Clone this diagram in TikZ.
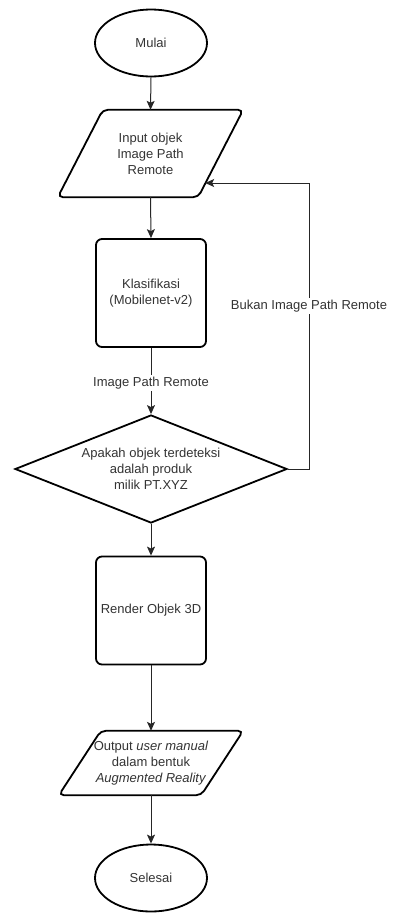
\documentclass[tikz,border=0pt]{standalone}
\usepackage{fontspec}
\setmainfont{Liberation Sans}
\usetikzlibrary{shapes.geometric,arrows.meta,calc}

\tikzset{
  shapeline/.style={draw=black, line width=1.8pt},
  txt/.style={text=black!80, font=\fontsize{13}{16}\selectfont, align=center, inner sep=0pt},
  terminal/.style={shapeline, txt, ellipse, minimum width=112pt, minimum height=67pt},
  process/.style={shapeline, txt, rectangle, rounded corners=6pt, minimum width=110pt, minimum height=108pt},
  decision/.style={shapeline, txt, diamond, aspect=2.52, minimum width=272pt, minimum height=108pt},
  iobox/.style={txt, rectangle, draw=none},
  flow/.style={draw=black!85, line width=1pt, -{Stealth[length=9pt,width=8pt,inset=2pt]}},
  edgelabel/.style={txt, fill=white, inner sep=1.5pt}
}

\begin{document}
\begin{tikzpicture}[x=1pt,y=-1pt]
  \useasboundingbox (0,0) rectangle (392,913);

  % start / end terminals
  \node[terminal] (start) at (151,43) {Mulai};
  \node[terminal] (stop) at (151,878) {Selesai};

  % input parallelogram: text node plus slanted outline
  \node[iobox, minimum width=185pt, minimum height=87pt] (input) at (150.5,153.5)
    {Input objek\\Image Path\\Remote};
  \draw[shapeline, rounded corners=5pt]
    ($(input.north west)+(45,0)$) -- (input.north east)
    -- ($(input.south east)+(-45,0)$) -- (input.south west) -- cycle;

  % classification and rendering steps
  \node[process] (klas) at (151,293) {Klasifikasi\\(Mobilenet-v2)};
  \node[decision] (dec) at (151,469)
    {Apakah objek terdeteksi\\adalah produk\\milik PT.XYZ};
  \node[process] (render) at (151,610.5) {Render Objek 3D};

  % output parallelogram
  \node[iobox, minimum width=184pt, minimum height=64pt] (output) at (151,763)
    {Output \textit{user manual}\\dalam bentuk\\\textit{Augmented Reality}};
  \draw[shapeline, rounded corners=5pt]
    ($(output.north west)+(42,0)$) -- (output.north east)
    -- ($(output.south east)+(-42,0)$) -- (output.south west) -- cycle;

  % main flow
  \draw[flow] (start.south) -- (input.north);
  \draw[flow] (input.south) -- (klas.north);
  \draw[flow] (klas.south) -- node[edgelabel, pos=0.53] {Image Path Remote} (dec.north);
  \draw[flow] (dec.south) -- (render.north);
  \draw[flow] (render.south) -- (output.north);
  \draw[flow] (output.south) -- (stop.north);

  % loop back when the object is not recognised
  \coordinate (inright) at (205.2,183);
  \coordinate (loopbottom) at (309,469);
  \coordinate (looptop) at (309,183);
  \draw[flow] (dec.east) -- (loopbottom) -- node[edgelabel, pos=0.57] {Bukan Image Path Remote} (looptop) -- (inright);
\end{tikzpicture}
\end{document}
